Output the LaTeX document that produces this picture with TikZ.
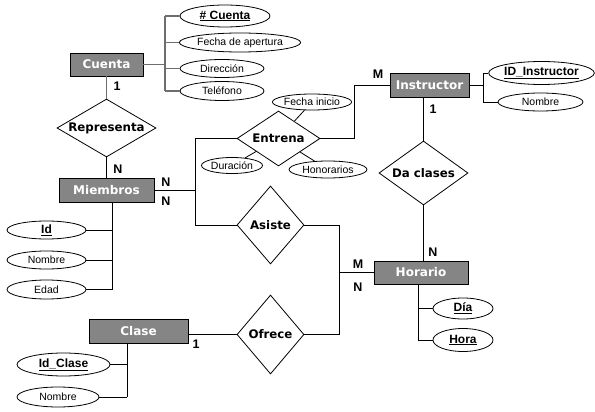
\documentclass[tikz,border=0pt]{standalone}
\usepackage{fontspec}
\setmainfont{Liberation Sans}
\newfontfamily\dejavu{DejaVu Sans}
\usetikzlibrary{shapes.geometric}
\definecolor{entgray}{RGB}{133,133,133}
\definecolor{linegray}{RGB}{110,110,110}
\begin{document}
\begin{tikzpicture}[x=1pt,y=-1pt,
  ent/.style={draw=black, fill=entgray, text=white, line width=0.8pt, inner sep=0pt,
    font=\dejavu\bfseries\fontsize{12}{14}\selectfont},
  rel/.style={draw=black, diamond, inner sep=0pt, line width=0.8pt},
  relfont/.style={font=\dejavu\bfseries\fontsize{11.8}{14}\selectfont, inner sep=0pt},
  attr/.style={draw=black, ellipse, inner sep=0pt, line width=0.8pt,
    font=\fontsize{10.5}{12}\selectfont},
  keyattr/.style={attr, font=\bfseries\fontsize{12}{14}\selectfont},
  card/.style={inner sep=0pt, font=\bfseries\fontsize{12.5}{14}\selectfont},
  conn/.style={draw=black, line width=0.8pt},
  gconn/.style={draw=linegray, line width=1.2pt}]
\useasboundingbox (0,0) rectangle (595,412);

% entities
\node[ent, minimum width=73pt, minimum height=23pt] (cuenta) at (106.5,64.5) {Cuenta};
\node[ent, minimum width=95pt, minimum height=24pt] (miembros) at (106.5,190) {Miembros};
\node[ent, minimum width=79pt, minimum height=24pt] (instructor) at (429.5,85) {Instructor};
\node[ent, minimum width=94pt, minimum height=23pt] (horario) at (421,272.5) {Horario};
\node[ent, minimum width=99pt, minimum height=24pt] (clase) at (138.5,331) {Clase};

% relationships
\node[rel, minimum width=99pt, minimum height=58pt, label={[relfont]center:Representa}] (rep) at (106.5,128) {};
\node[rel, minimum width=83pt, minimum height=55pt, label={[relfont]center:Entrena}] (entrena) at (278.5,138.5) {};
\node[rel, minimum width=89pt, minimum height=64pt, label={[relfont]center:Da clases}] (dac) at (423.5,173) {};
\node[rel, minimum width=67pt, minimum height=78pt, label={[relfont]center:Asiste}] (asiste) at (270.5,225) {};
\node[rel, minimum width=67pt, minimum height=79pt, label={[relfont]center:Ofrece}] (ofrece) at (270.5,334.5) {};

% attributes
\node[keyattr, minimum width=90pt, minimum height=22pt] (cnum) at (225,16) {\underline{\# Cuenta}};
\node[attr, minimum width=119pt, minimum height=19pt] (cfecha) at (240,42.5) {Fecha de apertura};
\node[attr, minimum width=84pt, minimum height=18pt] (cdir) at (222,68.5) {Dirección};
\node[attr, minimum width=84pt, minimum height=19pt] (ctel) at (222,91) {Teléfono};

\node[keyattr, minimum width=87pt, minimum height=23pt] (iid) at (541.5,73) {\underline{ID\_Instructor}};
\node[attr, minimum width=85pt, minimum height=18pt] (inom) at (540.5,102) {Nombre};

\node[keyattr, minimum width=79pt, minimum height=18pt] (mid) at (46.5,230) {\underline{Id}};
\node[attr, minimum width=79pt, minimum height=18pt] (mnom) at (46.5,260) {Nombre};
\node[attr, minimum width=79pt, minimum height=19pt] (medad) at (46.5,289.5) {Edad};

\node[keyattr, minimum width=93pt, minimum height=23pt] (cid) at (63.5,364.5) {\underline{Id\_Clase}};
\node[attr, minimum width=82pt, minimum height=20pt] (cnom) at (58,397) {Nombre};

\node[keyattr, minimum width=60pt, minimum height=21pt] (hdia) at (463,308.5) {\underline{Día}};
\node[keyattr, minimum width=60pt, minimum height=23pt] (hhora) at (463,340) {\underline{Hora}};

\node[attr, minimum width=74pt, minimum height=16pt] (fini) at (312,102) {Fecha inicio};
\node[attr, minimum width=61pt, minimum height=16pt] (edur) at (232,165.5) {Duración};
\node[attr, minimum width=78pt, minimum height=17pt] (ehon) at (328,169.5) {Honorarios};

% junction coordinates
\coordinate (jc) at (165,0);
\coordinate (ji) at (483,0);
\coordinate (jmb) at (112,0);
\coordinate (jcl) at (127,0);
\coordinate (jhb) at (418,0);
\coordinate (jm) at (195,190);
\coordinate (je) at (354,0);
\coordinate (jh) at (339,272.5);

% Cuenta attributes (gray)
\draw[gconn] (cuenta.east) -- (cuenta.east -| jc);
\draw[gconn] (jc |- cnum.west) -- (jc |- ctel.west);
\draw[gconn] (cnum.west) -- (cnum.west -| jc);
\draw[gconn] (cfecha.west) -- (cfecha.west -| jc);
\draw[gconn] (cdir.west) -- (cdir.west -| jc);
\draw[gconn] (ctel.west) -- (ctel.west -| jc);
\draw[gconn] (cuenta.south) -- (rep.north);

% Instructor attributes
\draw[conn] (instructor.east) -- (instructor.east -| ji);
\draw[conn] (ji |- iid.west) -- (ji |- inom.west);
\draw[conn] (iid.west) -- (iid.west -| ji);
\draw[conn] (inom.west) -- (inom.west -| ji);

% Miembros attributes
\draw[conn] (jmb |- miembros.south) -- (jmb |- medad.east);
\draw[conn] (mid.east) -- (mid.east -| jmb);
\draw[conn] (mnom.east) -- (mnom.east -| jmb);
\draw[conn] (medad.east) -- (medad.east -| jmb);

% Clase attributes
\draw[conn] (jcl |- clase.south) -- (jcl |- cnom.east);
\draw[conn] (cid.east) -- (cid.east -| jcl);
\draw[conn] (cnom.east) -- (cnom.east -| jcl);

% Horario attributes
\draw[conn] (jhb |- horario.south) -- (jhb |- hhora.west);
\draw[conn] (hdia.west) -- (hdia.west -| jhb);
\draw[conn] (hhora.west) -- (hhora.west -| jhb);

% Entrena attributes
\draw[conn] (fini) -- (entrena);
\draw[conn] (edur) -- (entrena);
\draw[conn] (ehon) -- (entrena);

% relationships
\draw[conn] (rep.south) -- (miembros.north);
\draw[conn] (miembros.east) -- (jm);
\draw[conn] (jm) |- (entrena.west);
\draw[conn] (jm) |- (asiste.west);
\draw[conn] (entrena.east) -- (entrena.east -| je) |- (instructor.west);
\draw[conn] (dac.north) -- (dac.north |- instructor.south);
\draw[conn] (dac.south) -- (dac.south |- horario.north);
\draw[conn] (horario.west) -- (jh);
\draw[conn] (asiste.east) -| (jh);
\draw[conn] (ofrece.east) -| (jh);
\draw[conn] (ofrece.west) -- (ofrece.west -| clase.east);

% cardinalities
\node[card] (c1) at (117,86) {1};
\node[card] (c2) at (118,169) {N};
\node[card] (c3) at (166,182) {N};
\node[card] (c4) at (166,201) {N};
\node[card] (c5) at (378,74) {M};
\node[card] (c6) at (433,109) {1};
\node[card] (c7) at (433,252) {N};
\node[card] (c8) at (358,264) {M};
\node[card] (c9) at (358,287) {N};
\node[card] (c10) at (196,344) {1};
\end{tikzpicture}
\end{document}
